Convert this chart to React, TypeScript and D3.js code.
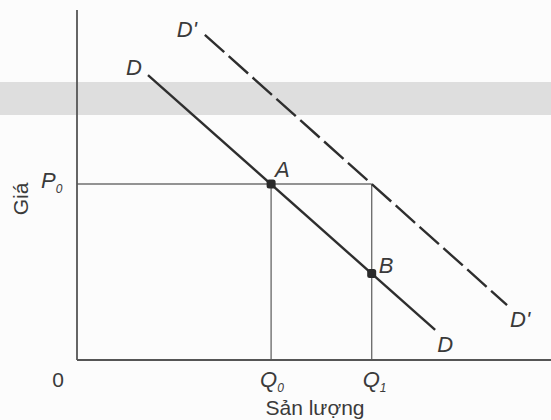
import React from "react";
import * as d3 from "d3";

// Demand curves in (quantity, price) units
const demandD = [
  { q: 1.51, p: 8.14 },
  { q: 7.62, p: 0.86 },
];
const demandDPrime = [
  { q: 2.72, p: 9.29 },
  { q: 9.15, p: 1.57 },
];

// Equilibrium points
const pointNames = ["A", "B"];
const pointQ = [4.13, 6.27];
const pointP = [5.03, 2.47];

// Reference levels
const P0 = 5.03;
const Q0 = 4.13;
const Q1 = 6.27;

const xAxisTitle = "Sản lượng";
const yAxisTitle = "Giá";

const W = 551;
const H = 420;

export default function App() {
  const x = d3.scaleLinear().domain([0, 10]).range([77, 547]);
  const y = d3.scaleLinear().domain([0, 10]).range([360, 10]);

  const line = d3
    .line<{ q: number; p: number }>()
    .x((d) => x(d.q))
    .y((d) => y(d.p));

  const font = "'Liberation Sans', Arial, sans-serif";
  const ink = "#2e2e2e";
  const labelInk = "#3a3a3a";

  const dStart = demandD[0];
  const dEnd = demandD[demandD.length - 1];
  const dpStart = demandDPrime[0];
  const dpEnd = demandDPrime[demandDPrime.length - 1];

  return (
    <svg
      width={W}
      height={H}
      style={{ position: "absolute", left: 0, top: 0, background: "#fff" }}
      fontFamily={font}
    >
      <rect x={0} y={0} width={W} height={H} fill="#fcfcfc" />
      {/* faint band behind the upper plot area */}
      <rect x={0} y={82} width={W} height={33} fill="#d6d6d6" opacity={0.8} />

      {/* guide lines at P0, Q0, Q1 */}
      <g stroke="#707070" strokeWidth={1.4} fill="none">
        <line x1={x(0)} x2={x(Q1)} y1={y(P0)} y2={y(P0)} />
        <line x1={x(Q0)} x2={x(Q0)} y1={y(P0)} y2={y(0)} />
        <line x1={x(Q1)} x2={x(Q1)} y1={y(P0)} y2={y(0)} />
      </g>

      {/* axes */}
      <g stroke="#555" strokeWidth={1.8}>
        <line x1={x(0)} x2={x(0)} y1={y(10)} y2={y(0)} />
        <line x1={x(0)} x2={W} y1={y(0)} y2={y(0)} />
      </g>

      {/* demand curves */}
      <path d={line(demandD) ?? ""} stroke={ink} strokeWidth={2.4} fill="none" />
      <path
        d={line(demandDPrime) ?? ""}
        stroke={ink}
        strokeWidth={2.4}
        fill="none"
        strokeDasharray="26 6"
      />

      {/* equilibrium markers */}
      {pointNames.map((n, i) => (
        <rect
          key={n}
          x={x(pointQ[i]) - 4.5}
          y={y(pointP[i]) - 4.5}
          width={9}
          height={9}
          rx={2.5}
          fill="#2a2a2a"
        />
      ))}

      {/* labels */}
      <g fill={labelInk} fontStyle="italic" fontSize={22}>
        <text x={x(dStart.q) - 22} y={y(dStart.p)}>D</text>
        <text x={x(dpStart.q) - 28} y={y(dpStart.p) + 2}>D'</text>
        <text x={x(dEnd.q) + 2} y={y(dEnd.p) + 22}>D</text>
        <text x={x(dpEnd.q) + 3} y={y(dpEnd.p) + 22}>D'</text>
        <text x={x(pointQ[0]) + 4} y={y(pointP[0]) - 7}>{pointNames[0]}</text>
        <text x={x(pointQ[1]) + 7} y={y(pointP[1]) - 1}>{pointNames[1]}</text>
        <text x={41} y={y(P0) + 4}>
          P<tspan fontSize={12} dy={5}>0</tspan>
        </text>
        <text x={x(Q0) - 11} y={y(0) + 27}>
          Q<tspan fontSize={12} dy={5}>0</tspan>
        </text>
        <text x={x(Q1) - 9} y={y(0) + 27}>
          Q<tspan fontSize={12} dy={5}>1</tspan>
        </text>
      </g>

      <text x={58} y={387} fontSize={21} fill={labelInk} textAnchor="middle">
        0
      </text>
      <text x={315} y={415} fontSize={21} fill={labelInk} textAnchor="middle">
        {xAxisTitle}
      </text>
      <text
        transform="translate(28,199) rotate(-90)"
        fontSize={21}
        fill={labelInk}
        textAnchor="middle"
      >
        {yAxisTitle}
      </text>
    </svg>
  );
}
